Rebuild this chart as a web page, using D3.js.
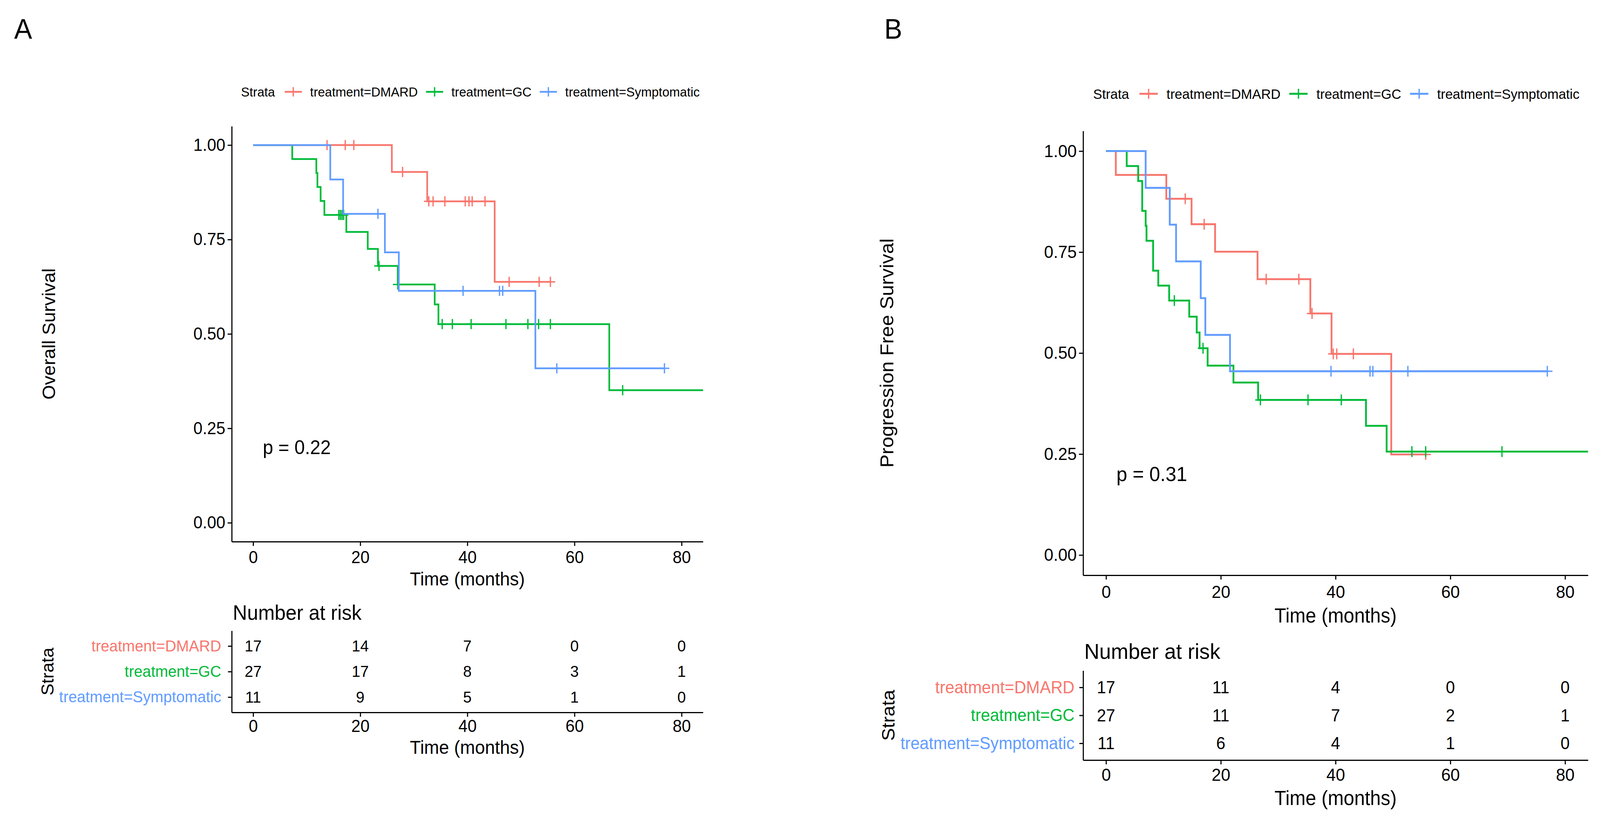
<!DOCTYPE html>
<html>
<head>
<meta charset="utf-8">
<script src="https://cdn.jsdelivr.net/npm/d3@7"></script>
<style>
  html, body { margin: 0; padding: 0; background: #fff; overflow: hidden; }
  svg { display: block; width: 100vw; height: 100vh; }
  text { font-family: "Liberation Sans", Arial, sans-serif; }
</style>
</head>
<body>
<svg id="chart" viewBox="0 0 4281 2106" preserveAspectRatio="none"></svg>
<script>
const strata = ["treatment=DMARD", "treatment=GC", "treatment=Symptomatic"];
const strataColors = ["#F8766D", "#00BA38", "#619CFF"];
const xTicks = [0, 20, 40, 60, 80];
const yTicks = [0, 0.25, 0.5, 0.75, 1];

// A: overall survival (step times, survival after each step, censored times)
const osDmardTimes = [0, 25.9, 32.5, 45.1];
const osDmardSurv = [1, 0.929, 0.851, 0.638];
const osDmardCensor = [13.8, 17.2, 18.8, 27.9, 32.8, 33.6, 35.8, 39.6, 40.3, 40.9, 43.3, 47.8, 53.4, 55.5];
const osGcTimes = [0, 7.3, 11.8, 12.0, 12.6, 13.3, 17.4, 21.4, 23.3, 27.0, 33.9, 34.6, 66.5];
const osGcSurv = [1, 0.963, 0.926, 0.889, 0.852, 0.815, 0.770, 0.725, 0.680, 0.631, 0.578, 0.526, 0.351];
const osGcCensor = [16.0, 16.3, 16.6, 16.9, 23.5, 27.0, 35.3, 37.2, 40.7, 47.2, 51.3, 53.3, 55.5, 69.0];
const osSymTimes = [0, 14.4, 16.8, 24.6, 27.2, 52.7];
const osSymSurv = [1, 0.909, 0.818, 0.716, 0.614, 0.409];
const osSymCensor = [23.3, 39.2, 46.0, 46.6, 56.7, 76.8];
const osLastTime = [55.5, 90, 76.8];
const osRisk = [[17, 14, 7, 0, 0], [27, 17, 8, 3, 1], [11, 9, 5, 1, 0]];

// B: progression free survival
const pfsDmardTimes = [0, 1.7, 10.5, 14.9, 19.0, 26.4, 35.6, 39.3, 49.7];
const pfsDmardSurv = [1, 0.941, 0.882, 0.819, 0.751, 0.683, 0.598, 0.498, 0.249];
const pfsDmardCensor = [13.8, 17.1, 27.9, 33.6, 35.9, 39.6, 40.2, 43.1, 55.7];
const pfsGcTimes = [0, 3.6, 5.6, 6.3, 6.9, 7.05, 8.2, 9.1, 11.0, 14.5, 15.8, 16.3, 17.7, 22.2, 26.5, 45.3, 48.9];
const pfsGcSurv = [1, 0.963, 0.926, 0.852, 0.815, 0.778, 0.704, 0.667, 0.630, 0.590, 0.551, 0.512, 0.469, 0.427, 0.384, 0.320, 0.256];
const pfsGcCensor = [11.9, 16.9, 26.9, 35.2, 41.0, 53.3, 55.7, 69.0];
const pfsSymTimes = [0, 6.9, 11.1, 12.2, 16.5, 17.3, 21.6];
const pfsSymSurv = [1, 0.909, 0.818, 0.727, 0.636, 0.545, 0.455];
const pfsSymCensor = [39.2, 46.0, 46.5, 52.6, 76.9];
const pfsLastTime = [55.7, 90, 76.9];
const pfsRisk = [[17, 11, 4, 0, 0], [27, 11, 7, 2, 1], [11, 6, 4, 1, 0]];

const svg = d3.select("#chart");

function survAt(times, surv, t) {
    let s = surv[0];
    times.forEach((tt, i) => { if (tt <= t) s = surv[i]; });
    return s;
}

function plus(x, y, s) {
    return `M${x - s},${y}H${x + s}M${x},${y - s}V${y + s}`;
}

function styleAxis(g, fs) {
    g.selectAll("path.domain").attr("stroke", "#000").attr("stroke-width", 3);
    g.selectAll(".tick line").attr("stroke", "#000").attr("stroke-width", 3);
    g.selectAll(".tick text").attr("fill", "#000").style("font-size", fs + "px");
}

function drawPanel(p) {
    const g = svg.append("g");
    const x = d3.scaleLinear().domain([-4, 84]).range([p.left, p.right]);
    const y = d3.scaleLinear().domain([-0.05, 1.05]).range([p.bottom, p.top]);

    // panel letter
    g.append("text").attr("x", p.letterX).attr("y", 99)
        .style("font-size", "72px").text(p.letter);

    // legend
    const lg = g.append("g");
    const title = lg.append("text").attr("x", p.legendX).attr("y", p.legendY)
        .attr("dominant-baseline", "central").style("font-size", p.fs.legend + "px").text("Strata");
    let lx = p.legendX + title.node().getComputedTextLength() + 26 * p.k;
    strata.forEach((s, i) => {
        const kw = 46 * p.k;
        lg.append("line").attr("x1", lx).attr("x2", lx + kw).attr("y1", p.legendY).attr("y2", p.legendY)
            .attr("stroke", strataColors[i]).attr("stroke-width", p.lw);
        lg.append("path").attr("d", plus(lx + kw / 2, p.legendY, 12 * p.k))
            .attr("stroke", strataColors[i]).attr("stroke-width", 3.5);
        const t = lg.append("text").attr("x", lx + kw + 22 * p.k).attr("y", p.legendY)
            .attr("dominant-baseline", "central").style("font-size", p.fs.legend + "px").text(s);
        lx = lx + kw + 22 * p.k + t.node().getComputedTextLength() + 22 * p.k;
    });

    // axes
    const xa = g.append("g").attr("transform", `translate(0,${p.bottom})`)
        .call(d3.axisBottom(x).tickValues(xTicks).tickSize(11).tickSizeOuter(0).tickPadding(p.xPad));
    styleAxis(xa, p.fs.tick);
    const ya = g.append("g").attr("transform", `translate(${p.left},0)`)
        .call(d3.axisLeft(y).tickValues(yTicks).tickFormat(d3.format(".2f")).tickSize(11).tickSizeOuter(0).tickPadding(6));
    styleAxis(ya, p.fs.tick);

    g.append("text").attr("x", (p.left + p.right) / 2).attr("y", p.xTitleY)
        .attr("text-anchor", "middle").style("font-size", p.fs.title + "px").text("Time (months)");
    g.append("text").attr("transform", `translate(${p.yTitleX},${(p.top + p.bottom) / 2}) rotate(-90)`)
        .attr("text-anchor", "middle").attr("dominant-baseline", "central")
        .style("font-size", p.fs.title + "px").text(p.yTitle);

    // curves
    const clipId = "clip" + p.letter;
    svg.append("clipPath").attr("id", clipId).append("rect")
        .attr("x", p.left).attr("y", p.top).attr("width", p.right - p.left).attr("height", p.bottom - p.top);
    const line = d3.line().x(d => x(d[0])).y(d => y(d[1])).curve(d3.curveStepAfter);
    const cg = g.append("g").attr("clip-path", `url(#${clipId})`);
    p.series.forEach((s, i) => {
        const pts = s.times.map((t, j) => [t, s.surv[j]]);
        pts.push([s.last, s.surv[s.surv.length - 1]]);
        cg.append("path").attr("d", line(pts)).attr("fill", "none")
            .attr("stroke", strataColors[i]).attr("stroke-width", p.lw);
        cg.selectAll(null).data(s.censor).enter().append("path")
            .attr("d", t => plus(x(t), y(survAt(s.times, s.surv, t)), 13 * p.k))
            .attr("stroke", strataColors[i]).attr("stroke-width", 3.5);
    });

    g.append("text").attr("x", x(1.8)).attr("y", y(0.2))
        .attr("dominant-baseline", "central").style("font-size", p.fs.pval + "px").text(p.pval);

    // risk table
    const yt = d3.scalePoint().domain(strata).range([p.tTop, p.tBottom]).padding(0.6);
    g.append("text").attr("x", p.left + 3).attr("y", p.narY)
        .style("font-size", p.fs.nar + "px").text("Number at risk");
    const ta = g.append("g").attr("transform", `translate(0,${p.tBottom})`)
        .call(d3.axisBottom(x).tickValues(xTicks).tickSize(11).tickSizeOuter(0).tickPadding(p.tPad));
    styleAxis(ta, p.fs.tick);
    const tl = g.append("g").attr("transform", `translate(${p.left},0)`)
        .call(d3.axisLeft(yt).tickSize(10).tickSizeOuter(0).tickPadding(p.tLabPad));
    styleAxis(tl, p.fs.table);
    tl.selectAll(".tick text").attr("fill", (d, i) => strataColors[i]);
    p.risk.forEach((row, i) => {
        g.selectAll(null).data(row).enter().append("text")
            .attr("x", (d, j) => x(xTicks[j])).attr("y", yt(strata[i]))
            .attr("text-anchor", "middle").attr("dominant-baseline", "central")
            .style("font-size", p.fs.table + "px").text(d => d);
    });
    g.append("text").attr("x", (p.left + p.right) / 2).attr("y", p.tTitleY)
        .attr("text-anchor", "middle").style("font-size", p.fs.title + "px").text("Time (months)");
    g.append("text").attr("transform", `translate(${p.strataX},${(p.tTop + p.tBottom) / 2}) rotate(-90)`)
        .attr("text-anchor", "middle").attr("dominant-baseline", "central")
        .style("font-size", p.fs.strata + "px").text("Strata");
}

drawPanel({
    letter: "A", letterX: 38, k: 1, lw: 4.5,
    left: 620, right: 1881, top: 323, bottom: 1386,
    legendX: 645, legendY: 235,
    xPad: 13, xTitleY: 1498, yTitleX: 130, yTitle: "Overall Survival",
    pval: "p = 0.22",
    narY: 1586, tTop: 1614, tBottom: 1823, tPad: 8, tTitleY: 1929, strataX: 127, tLabPad: 18,
    fs: { tick: 44, title: 48, legend: 34, pval: 50, nar: 53, table: 41, strata: 46 },
    series: [
        { times: osDmardTimes, surv: osDmardSurv, censor: osDmardCensor, last: osLastTime[0] },
        { times: osGcTimes, surv: osGcSurv, censor: osGcCensor, last: osLastTime[1] },
        { times: osSymTimes, surv: osSymSurv, censor: osSymCensor, last: osLastTime[2] }
    ],
    risk: osRisk
});

drawPanel({
    letter: "B", letterX: 2366, k: 1.066, lw: 4.8,
    left: 2898, right: 4249, top: 335, bottom: 1472,
    legendX: 2925, legendY: 240,
    xPad: 15, xTitleY: 1593, yTitleX: 2373, yTitle: "Progression Free Survival",
    pval: "p = 0.31",
    narY: 1686, tTop: 1716, tBottom: 1945, tPad: 10, tTitleY: 2060, strataX: 2377, tLabPad: 13,
    fs: { tick: 45, title: 51, legend: 36, pval: 52, nar: 56, table: 44, strata: 49 },
    series: [
        { times: pfsDmardTimes, surv: pfsDmardSurv, censor: pfsDmardCensor, last: pfsLastTime[0] },
        { times: pfsGcTimes, surv: pfsGcSurv, censor: pfsGcCensor, last: pfsLastTime[1] },
        { times: pfsSymTimes, surv: pfsSymSurv, censor: pfsSymCensor, last: pfsLastTime[2] }
    ],
    risk: pfsRisk
});
</script>
</body>
</html>
